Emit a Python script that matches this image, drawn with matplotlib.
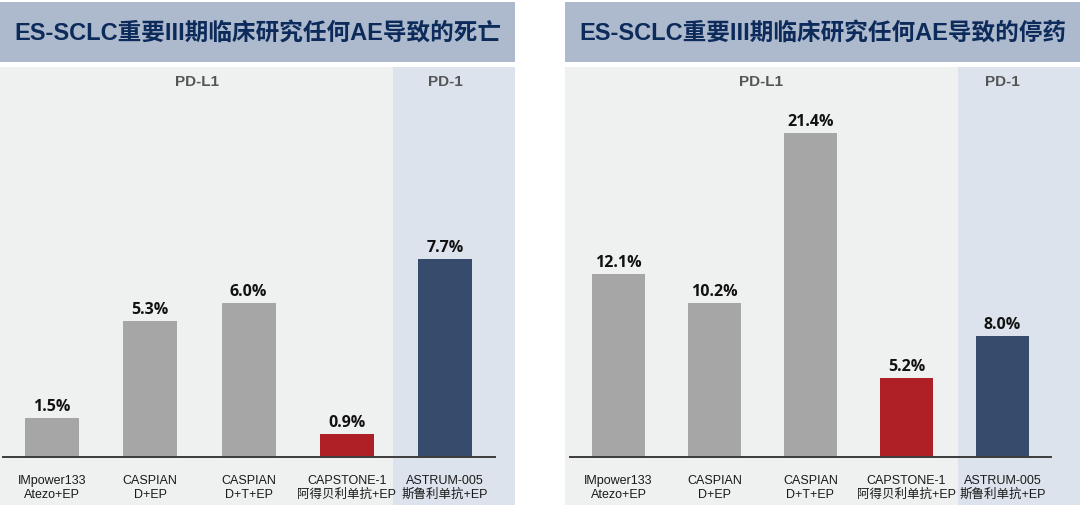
import matplotlib
matplotlib.use('Agg')
from matplotlib import pyplot as plt
from matplotlib.patches import Rectangle

plt.rcParams['font.family'] = ['Liberation Sans', 'Noto Sans CJK SC', 'DejaVu Sans']

# data
trials = ['IMpower133\nAtezo+EP', 'CASPIAN\nD+EP', 'CASPIAN\nD+T+EP',
          'CAPSTONE-1\n阿得贝利单抗+EP', 'ASTRUM-005\n斯鲁利单抗+EP']
death_rates = [1.5, 5.3, 6.0, 0.9, 7.7]
discont_rates = [12.1, 10.2, 21.4, 5.2, 8.0]
titles = ['ES-SCLC重要III期临床研究任何AE导致的死亡',
          'ES-SCLC重要III期临床研究任何AE导致的停药']

GRAY = '#a6a6a6'
RED = '#ae2025'
NAVY = '#374c6c'
bar_colors = [GRAY, GRAY, GRAY, RED, NAVY]

W, H = 1080, 508
fig = plt.figure(figsize=(W / 100, H / 100), dpi=100)
fig.patch.set_facecolor('white')


def draw_panel(x0, x1, values, title, xlim, pd1_start, ylim):
    # header band
    fig.add_artist(Rectangle((x0 / W, 1 - 62 / H), (x1 - x0) / W, 60 / H,
                             transform=fig.transFigure, color='#adb9cc', lw=0))
    fig.text((x0 + x1) / 2 / W, 1 - 33 / H, title, ha='center', va='center',
             fontsize=17, fontweight='bold', color='#0c2a5a',
             family=['Liberation Sans', 'Noto Sans CJK SC', 'DejaVu Sans'])

    ax = fig.add_axes([x0 / W, 3 / H, (x1 - x0) / W, 438 / H])
    ax.set_xlim(*xlim)
    ax.set_ylim(*ylim)
    ax.axis('off')
    ax.add_patch(Rectangle((xlim[0], ylim[0]), xlim[1] - xlim[0], ylim[1] - ylim[0],
                           color='#eff0f0', lw=0, zorder=0))
    ax.axvspan(pd1_start, xlim[1], color='#dce3ec', lw=0, zorder=0)

    pos = list(range(len(values)))
    ax.bar(pos, values, width=0.55, color=bar_colors, zorder=2)
    ax.plot([-0.5, len(values) - 0.49], [0, 0], color='#3c3c3c', lw=1.4, zorder=3)

    for i, v in enumerate(values):
        ax.annotate('{:.1f}%'.format(v), (i, v), xytext=(0, 3), textcoords='offset pixels',
                    ha='center', va='bottom', fontsize=11.5, fontweight='bold',
                    color='#111111', family=['Open Sans', 'DejaVu Sans'])
        ax.annotate(trials[i], (i, 0), xytext=(0, -31), textcoords='offset pixels',
                    ha='center', va='center', fontsize=9, color='#1a1a1a',
                    linespacing=1.15)

    ax.text((xlim[0] + pd1_start) / 2, 1 - 15 / 438, 'PD-L1', transform=ax.get_xaxis_transform(),
            ha='center', va='center', fontsize=11, fontweight='bold', color='#555555')
    ax.text(len(values) - 1, 1 - 15 / 438, 'PD-1', transform=ax.get_xaxis_transform(),
            ha='center', va='center', fontsize=11, fontweight='bold', color='#555555')


draw_panel(0, 515, death_rates, titles[0], (-0.529, 4.71), 3.47, (-1.868, 15.18))
draw_panel(565, 1080, discont_rates, titles[1], (-0.557, 4.807), 3.536, (-3.17, 25.76))

fig.savefig('out.png', dpi=100)
